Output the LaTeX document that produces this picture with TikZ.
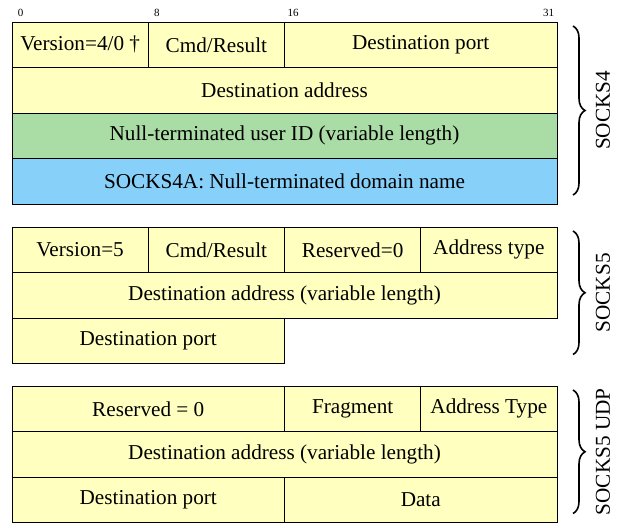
\documentclass[tikz,border=0pt]{standalone}
\usepackage{fontspec}
\setmainfont{Liberation Serif}
\usetikzlibrary{positioning, decorations.pathreplacing}
\definecolor{fieldyellow}{RGB}{255,255,192}
\definecolor{idgreen}{RGB}{170,220,165}
\definecolor{nameblue}{RGB}{135,208,250}
\tikzstyle{field} = [
  rectangle,
  minimum height=22.75pt,
  text centered,
  draw=black,
  line width=0.5pt,
  inner sep=0,
  outer sep=0,
  fill=fieldyellow
]
\tikzstyle{byte} = [field, minimum width=68.125pt]
\tikzstyle{halfword} = [field, minimum width=136.25pt]
\tikzstyle{word} = [field, minimum width=272.5pt]
\tikzstyle{bitnum} = [
  font=\fontsize{5.5}{6}\selectfont,
  anchor=base,
  inner sep=0
]
\tikzstyle{groupbrace} = [
  line width=0.8pt,
  decorate,
  decoration={brace, amplitude=6pt}
]
\tikzstyle{grouplabel} = [
  rotate=90,
  anchor=north,
  inner sep=0
]

\begin{document}
\begin{tikzpicture}[font=\fontsize{10.6}{12.5}\selectfont]

    \useasboundingbox (-6pt,11pt) rectangle (306pt,-252.5pt);

    % bit numbers
    \foreach \b in {0,8,16,31}
      \node (bit\b) [bitnum] at ({(\b+0.5)*8.516pt},3pt) {\b};

    % SOCKS4
    \node (ver4) [byte, anchor=north west] at (0,0) {Version=4/0 \dag};
    \node (cmd4) [byte, right=0pt of ver4] {Cmd/Result};
    \node (port4) [halfword, right=0pt of cmd4] {Destination port};
    \node (addr4) [word, anchor=north west] at (ver4.south west) {Destination address};
    \node (user4) [word, anchor=north west, fill=idgreen] at (addr4.south west) {Null-terminated user ID (variable length)};
    \node (dom4) [word, anchor=north west, fill=nameblue] at (user4.south west) {SOCKS4A: Null-terminated domain name};

    % SOCKS5
    \node (ver5) [byte, anchor=north west] at ([yshift=-11.5pt]dom4.south west) {Version=5};
    \node (cmd5) [byte, right=0pt of ver5] {Cmd/Result};
    \node (rsv5) [byte, right=0pt of cmd5] {Reserved=0};
    \node (atyp5) [byte, right=0pt of rsv5] {Address type};
    \node (addr5) [word, anchor=north west] at (ver5.south west) {Destination address (variable length)};
    \node (port5) [halfword, anchor=north west] at (addr5.south west) {Destination port};

    % SOCKS5 UDP
    \node (rsvu) [halfword, anchor=north west] at ([yshift=-11.25pt]port5.south west) {Reserved = 0};
    \node (fragu) [byte, right=0pt of rsvu] {Fragment};
    \node (atypu) [byte, right=0pt of fragu] {Address Type};
    \node (addru) [word, anchor=north west] at (rsvu.south west) {Destination address (variable length)};
    \node (portu) [halfword, anchor=north west] at (addru.south west) {Destination port};
    \node (datau) [halfword, right=0pt of portu] {Data};

    % braces
    \draw [groupbrace] ([xshift=8pt,yshift=-2pt]port4.north east) -- ([xshift=8pt,yshift=4.5pt]dom4.south east)
      node[midway, xshift=11pt, grouplabel] {SOCKS4};
    \draw [groupbrace] ([xshift=8pt,yshift=-2pt]atyp5.north east) -- ([xshift=8pt,yshift=4.5pt]addr5.south east |- port5.south)
      node[midway, xshift=11pt, grouplabel] {SOCKS5};
    \draw [groupbrace] ([xshift=8pt,yshift=-2pt]atypu.north east) -- ([xshift=8pt,yshift=4.5pt]datau.south east)
      node[midway, xshift=11pt, grouplabel] {SOCKS5 UDP};

\end{tikzpicture}
\end{document}
